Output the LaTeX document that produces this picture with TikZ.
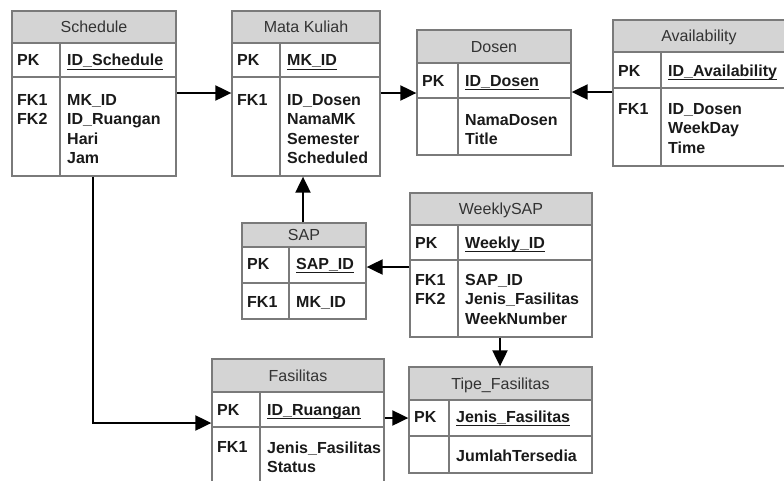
\documentclass[tikz,border=0pt]{standalone}
\usepackage{fontspec}
\setmainfont{Liberation Sans}
\usetikzlibrary{arrows.meta,fit}

\definecolor{framegray}{HTML}{7A7A7A}
\definecolor{hdrfill}{HTML}{D4D4D4}
\definecolor{hdrtext}{HTML}{333333}
\definecolor{keyink}{HTML}{1A1A1A}

\tikzset{
  tablebox/.style={draw=framegray, line width=1.3pt, inner sep=0pt},
  rowrule/.style={draw=framegray, line width=1.3pt},
  headtext/.style={font=\fontsize{16}{19.3}\selectfont, text=hdrtext, inner sep=0pt, anchor=base},
  keytext/.style={font=\fontsize{16}{19.3}\selectfont\bfseries, text=keyink, inner sep=0pt, align=left},
  fk/.style={-{Triangle[length=16pt,width=15pt]}, line width=2pt, black},
}

% underlined primary-key name
\newcommand\keyname[1]{\setbox0\hbox{#1}\rlap{\rule[-4.1pt]{\wd0}{1.3pt}}\box0}

% #1 name, #2 left, #3 top, #4 right, #5 column rule, #6 header bottom,
% #7 key row bottom, #8 bottom, #9 title
\newcommand\ertable[9]{%
  \fill[hdrfill] (#2,#3) rectangle (#4,#6);
  \draw[rowrule] (#2,#6) -- (#4,#6) (#2,#7) -- (#4,#7) (#5,#6) -- (#5,#8);
  \node[tablebox, fit={(#2,#3) (#4,#8)}] (#1) {};
  \node[headtext] (#1-title) at ({(#2+#4)/2},{(#3+#6)/2+5.7}) {#9};
}

% #1 name, #2 left, #3 column rule, #4 key baseline, #5 first field baseline,
% #6 key field, #7 foreign key labels, #8 fields
\newcommand\erfields[8]{%
  \node[keytext, anchor=base west] (#1-pklabel) at (#2+5,#4) {PK};
  \node[keytext, anchor=base west] (#1-pkfield) at (#3+7,#4) {\keyname{#6}};
  \node[keytext, anchor=north west] (#1-fklabel) at (#2+5,#5-11.5) {#7};
  \node[keytext, anchor=north west] (#1-fields) at (#3+7,#5-11.5) {#8};
}

\begin{document}
\begin{tikzpicture}[x=1pt, y=-1pt]
  \useasboundingbox (0,0) rectangle (784,480);

  % Schedule
  \ertable{sched}{12}{11}{176}{60}{43}{77}{176}{Schedule}
  \erfields{sched}{12}{60}{65.7}{105.7}{ID\_Schedule}{FK1\\FK2}{MK\_ID\\ID\_Ruangan\\Hari\\Jam}

  % Mata Kuliah
  \ertable{mk}{232}{11}{380}{280}{43}{77}{176}{Mata Kuliah}
  \erfields{mk}{232}{280}{65.7}{105.7}{MK\_ID}{FK1}{ID\_Dosen\\NamaMK\\Semester\\Scheduled}

  % Dosen
  \ertable{dosen}{417}{30}{571}{458}{63}{98}{155}{Dosen}
  \erfields{dosen}{417}{458}{86}{125.7}{ID\_Dosen}{}{NamaDosen\\Title}

  % Availability
  \ertable{avail}{613}{20}{785}{661}{52}{88}{166}{Availability}
  \erfields{avail}{613}{661}{76}{114.7}{ID\_Availability}{FK1}{ID\_Dosen\\WeekDay\\Time}

  % SAP
  \ertable{sap}{242}{223}{366}{289}{247}{283}{319}{SAP}
  \erfields{sap}{242}{289}{269}{307.7}{SAP\_ID}{FK1}{MK\_ID}

  % WeeklySAP
  \ertable{wsap}{410}{193}{592}{458}{225}{260}{337}{WeeklySAP}
  \erfields{wsap}{410}{458}{248}{285.7}{Weekly\_ID}{FK1\\FK2}{SAP\_ID\\Jenis\_Fasilitas\\WeekNumber}

  % Fasilitas
  \ertable{fas}{212}{359}{384}{260}{392}{427}{492}{Fasilitas}
  \erfields{fas}{212}{260}{415}{452.7}{ID\_Ruangan}{FK1}{Jenis\_Fasilitas\\Status}

  % Tipe_Fasilitas
  \ertable{tipe}{409}{367}{592}{449}{400}{436}{473}{Tipe\_Fasilitas}
  \erfields{tipe}{409}{449}{422}{460.7}{Jenis\_Fasilitas}{}{JumlahTersedia}

  % relationships
  \draw[fk] (sched.east |- 0,93) -- (mk.west |- 0,93);
  \draw[fk] (mk.east |- 0,93) -- (dosen.west |- 0,93);
  \draw[fk] (avail.west |- 0,92) -- (dosen.east |- 0,92);
  \draw[fk] (sap.north -| 303,0) -- (mk.south -| 303,0);
  \draw[fk] (wsap.west |- 0,267) -- (sap.east |- 0,267);
  \draw[fk] (wsap.south -| 500,0) -- (tipe.north -| 500,0);
  \draw[fk] (sched.south -| 93,0) |- (fas.west |- 0,423);
  \draw[fk] (fas.east |- 0,418) -- (tipe.west |- 0,418);
\end{tikzpicture}
\end{document}
